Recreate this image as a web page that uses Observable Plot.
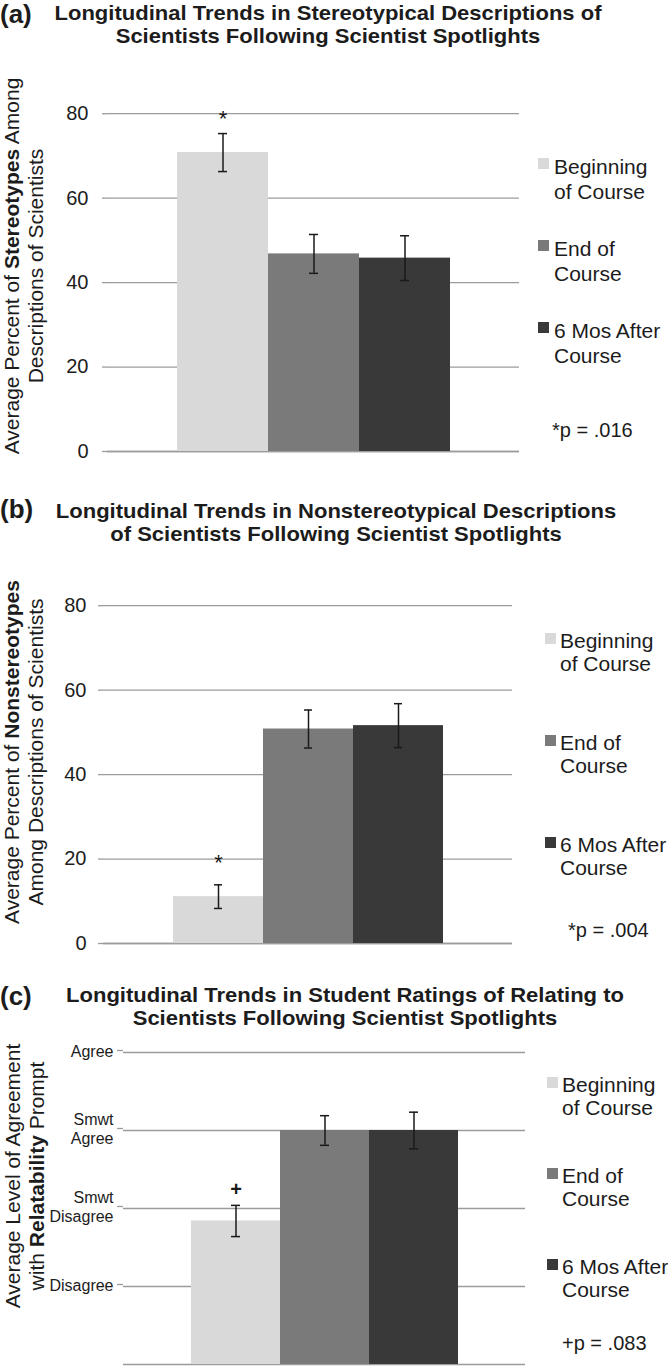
<!DOCTYPE html>
<html>
<head>
<meta charset="utf-8">
<script src="https://cdn.jsdelivr.net/npm/d3@7"></script>
<script src="https://cdn.jsdelivr.net/npm/@observablehq/plot@0.6"></script>
<style>
  body { margin: 0; background: #fff; }
  #page { position: relative; width: 668px; height: 1366px; overflow: hidden; background: #fff;
          font-family: "Liberation Sans", Arial, sans-serif; color: #1c1c1c; }
  .abs { position: absolute; }
  .plabel { font-weight: bold; font-size: 26px; line-height: 30px; white-space: nowrap; }
  .tline { font-weight: bold; font-size: 20.5px; line-height: 23px; white-space: nowrap; text-align: center; width: 800px; transform-origin: 400px 50%; }
  .ylab { font-size: 21px; line-height: 24px; text-align: center; white-space: nowrap; transform: rotate(-90deg); transform-origin: 50% 50%; }
  .legtxt { font-size: 21px; white-space: nowrap; }
  .sw { width: 11px; height: 11px; }
  .note { font-size: 20px; white-space: nowrap; }
  svg { position: absolute; overflow: visible; }
</style>
</head>
<body>
<div id="page"></div>
<script>
// ---------------- data ----------------
const periods = ["Beginning of Course", "End of Course", "6 Mos After Course"];
const legendLines = [["Beginning", "of Course"], ["End of", "Course"], ["6 Mos After", "Course"]];
const barColors = ["#d9d9d9", "#7a7a7a", "#393939"];

const stereoMean = [70.8, 46.8, 45.8];
const stereoErr = [4.5, 4.6, 5.3];
const stereoSig = ["*", "", ""];

const nonstereoMean = [11.1, 50.8, 51.6];
const nonstereoErr = [2.8, 4.5, 5.2];
const nonstereoSig = ["*", "", ""];

const relateMean = [2.84, 4.0, 4.0];
const relateErr = [0.20, 0.19, 0.235];
const relateSig = ["+", "", ""];

const percentTicks = [0, 20, 40, 60, 80];
const agreeTicks = [2, 3, 4, 5];
const agreeLabels = ["Disagree", "Smwt\nDisagree", "Smwt\nAgree", "Agree"];

const panelLetters = ["(a)", "(b)", "(c)"];
const titles = [
  ["Longitudinal Trends in Stereotypical Descriptions of", "Scientists Following Scientist Spotlights"],
  ["Longitudinal Trends in Nonstereotypical Descriptions", "of Scientists Following Scientist Spotlights"],
  ["Longitudinal Trends in Student Ratings of Relating to", "Scientists Following Scientist Spotlights"]
];
const yLabels = [
  ["Average Percent of <b>Stereotypes</b> Among", "Descriptions of Scientists"],
  ["Average Percent of <b>Nonstereotypes</b>", "Among Descriptions of Scientists"],
  ["Average Level of Agreement", "with <b>Relatability</b> Prompt"]
];
const pNotes = ["*p = .016", "*p = .004", "+p = .083"];

// ---------------- helpers ----------------
const page = document.getElementById("page");
function el(cls, css, html) {
  const d = document.createElement("div");
  d.className = "abs " + cls;
  Object.assign(d.style, css);
  d.innerHTML = html;
  page.appendChild(d);
  return d;
}

function chart(cfg) {
  const rows = periods.map((p, i) => ({
    period: p, mean: cfg.mean[i], lo: cfg.mean[i] - cfg.err[i], hi: cfg.mean[i] + cfg.err[i], sig: cfg.sig[i]
  }));
  const gridColor = "#9c9c9c";
  const svg = Plot.plot({
    width: cfg.width, height: cfg.height,
    marginLeft: cfg.marginLeft, marginRight: 0, marginTop: cfg.marginTop, marginBottom: cfg.marginBottom,
    style: { fontFamily: '"Liberation Sans", Arial, sans-serif', fontSize: cfg.fontSize + "px", color: "#1c1c1c", background: "transparent", overflow: "visible" },
    x: { domain: periods, paddingInner: 0, paddingOuter: cfg.paddingOuter, axis: null },
    y: { domain: cfg.yDomain, axis: null },
    color: { domain: periods, range: barColors },
    marks: [
      Plot.gridY(cfg.ticks, { stroke: gridColor, strokeOpacity: 1, strokeWidth: 1.3 }),
      Plot.ruleY([cfg.yDomain[0]], { stroke: gridColor, strokeWidth: 1.3 }),
      Plot.barY(rows, { x: "period", y: "mean", fill: "period", y1: cfg.yDomain[0] }),
      Plot.ruleX(rows, { x: "period", y1: "lo", y2: "hi", stroke: "#1a1a1a", strokeWidth: 1.5 }),
      Plot.tickY(rows, { x: "period", y: "lo", stroke: "#1a1a1a", strokeWidth: 1.5, insetLeft: cfg.capInset, insetRight: cfg.capInset }),
      Plot.tickY(rows, { x: "period", y: "hi", stroke: "#1a1a1a", strokeWidth: 1.5, insetLeft: cfg.capInset, insetRight: cfg.capInset }),
      Plot.text(rows, { x: "period", y: "hi", text: "sig", lineAnchor: "bottom", dy: cfg.sigDy, fontSize: cfg.sigSize, fontWeight: cfg.sigWeight, fill: "#1a1a1a" }),
      Plot.axisY({
        ticks: cfg.ticks, tickFormat: cfg.tickFormat, tickSize: cfg.tickSize, tickPadding: cfg.tickPadding,
        stroke: gridColor, strokeWidth: 1.3, fill: "#1c1c1c", line: true, label: null,
        fontSize: cfg.fontSize, lineHeight: cfg.lineHeight || 1, dy: cfg.tickDy || 0
      })
    ]
  });
  svg.style.left = "0px";
  svg.style.top = cfg.top + "px";
  page.appendChild(svg);
}

// ---------------- panels ----------------
const fmtAgree = d => agreeLabels[agreeTicks.indexOf(d)];

chart({ mean: stereoMean, err: stereoErr, sig: stereoSig, yDomain: [0, 90], ticks: percentTicks,
  top: 60, width: 519, height: 400, marginLeft: 107, marginTop: 11, marginBottom: 9, paddingOuter: 0.755,
  tickSize: 5, tickPadding: 14, fontSize: 20, capInset: 41, sigDy: -8, sigSize: 22, sigWeight: "normal" });

chart({ mean: nonstereoMean, err: nonstereoErr, sig: nonstereoSig, yDomain: [0, 90], ticks: percentTicks,
  top: 550, width: 512, height: 400, marginLeft: 103, marginTop: 13, marginBottom: 7, paddingOuter: 0.755,
  tickSize: 5, tickPadding: 12, fontSize: 20, capInset: 41, sigDy: -15, sigSize: 22, sigWeight: "normal" });

chart({ mean: relateMean, err: relateErr, sig: relateSig, yDomain: [1, 5], ticks: agreeTicks, tickFormat: fmtAgree,
  top: 1040, width: 525, height: 326, marginLeft: 123, marginTop: 12, marginBottom: 2, paddingOuter: 0.75,
  tickSize: 6, tickPadding: 4, fontSize: 16, lineHeight: 1.2, tickDy: -2, capInset: 40, sigDy: -9, sigSize: 20, sigWeight: "bold" });

// ---------------- titles ----------------
const letterTops = [-1, 494, 981];
const titleTops = [1, 499, 983];
const titleCenters = [328, 336, 345];
panelLetters.forEach((t, i) => el("plabel", { left: "0px", top: letterTops[i] + "px" }, t));

const titleDivs = [];
titles.forEach((lines, i) => {
  lines.forEach((line, j) => {
    const d = el("tline", { left: (titleCenters[i] - 400) + "px", top: (titleTops[i] + j * 23) + "px" }, "<span>" + line + "</span>");
    titleDivs.push(d);
  });
});
// fit title width to the reference's narrow bold lettering
const w0 = titleDivs[0].querySelector("span").getBoundingClientRect().width;
const sx = 547 / w0;
titleDivs.forEach(d => d.style.transform = `scaleX(${sx})`);

// ---------------- y-axis labels ----------------
const yLabCenters = [[24, 266], [24, 752], [25, 1176]];
yLabels.forEach((lines, i) => {
  const W = 440, H = 48;
  el("ylab", { left: (yLabCenters[i][0] - W / 2) + "px", top: (yLabCenters[i][1] - H / 2) + "px", width: W + "px", height: H + "px" },
     lines.join("<br>"));
});

// ---------------- legends ----------------
const legendLayouts = [
  { sw: 538, tx: 554, first: [173, 255, 337], lh: 25, note: [552, 437] },
  { sw: 545, tx: 560, first: [648, 750, 852], lh: 23, note: [568, 937] },
  { sw: 547, tx: 562, first: [1092, 1183, 1274], lh: 23, note: [562, 1350] }
];
legendLayouts.forEach((L, i) => {
  periods.forEach((p, k) => {
    const base = L.first[k];
    el("sw", { left: L.sw + "px", top: (base - 15) + "px", background: barColors[k] }, "");
    el("legtxt", { left: L.tx + "px", top: (base - 19) + "px", lineHeight: L.lh + "px" },
       legendLines[k].join("<br>"));
  });
  el("note", { left: L.note[0] + "px", top: (L.note[1] - 18) + "px", lineHeight: "22px" }, pNotes[i]);
});
</script>
</body>
</html>
